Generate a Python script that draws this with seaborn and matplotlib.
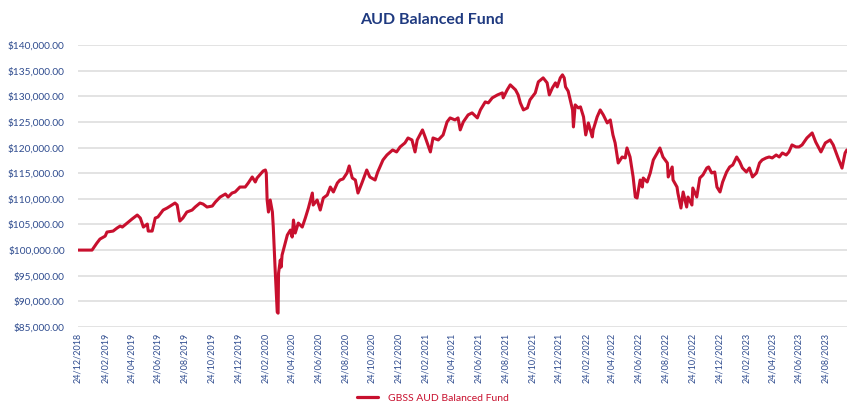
import matplotlib
matplotlib.use("Agg")
import matplotlib.pyplot as plt
import matplotlib.dates as mdates
import matplotlib.ticker as mticker
from matplotlib.lines import Line2D
import pandas as pd
import seaborn as sns

title = "AUD Balanced Fund"
series_name = "GBSS AUD Balanced Fund"

dates = [
    "2018-12-24", "2019-01-25", "2019-02-05", "2019-02-12", "2019-02-24", "2019-02-28",
    "2019-03-14", "2019-03-23", "2019-03-30", "2019-04-04", "2019-04-15", "2019-04-26",
    "2019-05-08", "2019-05-15", "2019-05-22", "2019-05-31", "2019-06-02", "2019-06-11",
    "2019-06-18", "2019-06-24", "2019-07-06", "2019-07-15", "2019-07-26", "2019-08-02",
    "2019-08-07", "2019-08-13", "2019-08-20", "2019-08-29", "2019-09-10", "2019-09-17",
    "2019-09-28", "2019-10-05", "2019-10-14", "2019-10-26", "2019-11-02", "2019-11-13",
    "2019-11-25", "2019-12-01", "2019-12-10", "2019-12-17", "2019-12-28", "2020-01-09",
    "2020-01-16", "2020-01-25", "2020-02-01", "2020-02-05", "2020-02-19", "2020-02-24",
    "2020-02-26", "2020-02-28", "2020-03-02", "2020-03-06", "2020-03-11", "2020-03-13",
    "2020-03-17", "2020-03-20", "2020-03-22", "2020-03-24", "2020-03-25", "2020-03-29",
    "2020-03-31", "2020-04-02", "2020-04-05", "2020-04-09", "2020-04-14", "2020-04-21",
    "2020-04-25", "2020-04-28", "2020-05-02", "2020-05-09", "2020-05-18", "2020-05-25",
    "2020-06-01", "2020-06-10", "2020-06-12", "2020-06-21", "2020-06-28", "2020-07-05",
    "2020-07-14", "2020-07-21", "2020-07-28", "2020-08-06", "2020-08-12", "2020-08-19",
    "2020-08-28", "2020-09-02", "2020-09-09", "2020-09-16", "2020-09-22", "2020-10-01",
    "2020-10-12", "2020-10-19", "2020-10-31", "2020-11-06", "2020-11-18", "2020-11-27",
    "2020-12-10", "2020-12-19", "2020-12-27", "2021-01-07", "2021-01-14", "2021-01-23",
    "2021-01-30", "2021-02-04", "2021-02-16", "2021-02-22", "2021-03-06", "2021-03-12",
    "2021-03-24", "2021-04-04", "2021-04-13", "2021-04-20", "2021-05-01", "2021-05-08",
    "2021-05-13", "2021-05-20", "2021-05-31", "2021-06-09", "2021-06-21", "2021-06-28",
    "2021-07-09", "2021-07-16", "2021-07-25", "2021-08-06", "2021-08-17", "2021-08-19",
    "2021-08-28", "2021-09-04", "2021-09-16", "2021-09-22", "2021-09-27", "2021-10-04",
    "2021-10-13", "2021-10-19", "2021-10-31", "2021-11-07", "2021-11-18", "2021-11-27",
    "2021-12-02", "2021-12-09", "2021-12-16", "2021-12-20", "2021-12-27", "2022-01-01",
    "2022-01-05", "2022-01-08", "2022-01-14", "2022-01-24", "2022-01-26", "2022-01-30",
    "2022-02-06", "2022-02-11", "2022-02-18", "2022-02-23", "2022-03-01", "2022-03-10",
    "2022-03-12", "2022-03-21", "2022-03-28", "2022-04-04", "2022-04-13", "2022-04-20",
    "2022-04-26", "2022-05-01", "2022-05-08", "2022-05-17", "2022-05-24", "2022-05-28",
    "2022-06-04", "2022-06-11", "2022-06-16", "2022-06-20", "2022-06-27", "2022-07-02",
    "2022-07-04", "2022-07-13", "2022-07-20", "2022-07-27", "2022-08-05", "2022-08-11",
    "2022-08-18", "2022-08-28", "2022-08-30", "2022-09-08", "2022-09-10", "2022-09-19",
    "2022-09-21", "2022-09-28", "2022-10-03", "2022-10-11", "2022-10-14", "2022-10-23",
    "2022-10-25", "2022-11-03", "2022-11-10", "2022-11-17", "2022-11-26", "2022-11-30",
    "2022-12-07", "2022-12-14", "2022-12-19", "2022-12-26", "2023-01-01", "2023-01-10",
    "2023-01-17", "2023-01-24", "2023-02-02", "2023-02-09", "2023-02-15", "2023-02-24",
    "2023-03-03", "2023-03-10", "2023-03-19", "2023-03-26", "2023-04-01", "2023-04-10",
    "2023-04-17", "2023-04-24", "2023-05-03", "2023-05-10", "2023-05-17", "2023-05-26",
    "2023-06-01", "2023-06-08", "2023-06-17", "2023-06-24", "2023-07-01", "2023-07-12",
    "2023-07-24", "2023-08-01", "2023-08-13", "2023-08-23", "2023-09-03", "2023-09-10",
    "2023-09-21", "2023-09-30", "2023-10-07", "2023-10-11",
]

values = [
    100000, 100000, 101370, 102150, 102730, 103520,
    103710, 104300, 104690, 104490, 105270, 106050,
    106840, 106250, 104490, 105080, 103710, 103710,
    106250, 106450, 107810, 108200, 108790, 109180,
    108790, 105660, 106250, 107420, 107810, 108400,
    109180, 108980, 108400, 108590, 109370, 110350,
    110940, 110350, 111130, 111330, 112300, 112300,
    113090, 114260, 113280, 114060, 115430, 115620,
    115040, 109770, 107420, 109770, 107420, 104490,
    96680, 91600, 87890, 87700, 95510, 98050,
    96680, 99020, 100000, 101370, 102930, 103910,
    102540, 105860, 103320, 105270, 104490, 106250,
    108200, 111130, 108790, 109770, 107810, 110160,
    110740, 112300, 111330, 113090, 113670, 113870,
    115040, 116410, 114060, 113670, 111130, 113090,
    115620, 114260, 113670, 115230, 117580, 118550,
    119530, 119140, 120120, 120900, 121870, 121480,
    119140, 121480, 123440, 122070, 119140, 121870,
    121480, 122460, 125000, 125780, 125390, 125780,
    123440, 125000, 126370, 126760, 125780, 127340,
    128900, 128710, 129690, 130270, 130660, 129690,
    131250, 132230, 131250, 130270, 128710, 127340,
    127730, 129300, 130660, 132810, 133590, 132620,
    130270, 131640, 132620, 131830, 133590, 134180,
    133590, 131830, 131000, 127340, 124020, 128320,
    127730, 127930, 125980, 122460, 124800, 122070,
    123440, 125980, 127340, 126370, 124800, 125390,
    122460, 120900, 116990, 118160, 117970, 119920,
    118160, 114260, 110350, 110160, 113670, 112300,
    114060, 113280, 115040, 117580, 118940, 119920,
    118160, 116990, 114260, 116210, 113670, 112300,
    111130, 108200, 111330, 108400, 110350, 108790,
    112110, 110350, 114060, 114650, 116020, 116210,
    115040, 115230, 112300, 111330, 113280, 115230,
    116210, 116600, 118160, 117190, 116020, 115230,
    116020, 114260, 115040, 116990, 117580, 117970,
    118160, 117970, 118550, 118160, 118940, 118550,
    119140, 120510, 120120, 120120, 120510, 121870,
    122850, 121090, 119140, 120900, 121480, 120510,
    117970, 115990, 118940, 119530,
]

tick_dates = pd.date_range("2018-12-01", "2023-10-01", freq="2MS") + pd.Timedelta(days=23)
y_ticks = list(range(85000, 140001, 5000))

df = pd.DataFrame({"Date": pd.to_datetime(dates), "Value": values, "Series": series_name})

sns.set_theme(style="white")
plt.rcParams["font.family"] = ["Lato", "DejaVu Sans"]

line_color = "#C8102E"
label_color = "#2F4C8F"
title_color = "#1F3A80"

W, H = 847, 403
fig = plt.figure(figsize=(W / 100, H / 100), dpi=100)
ax = fig.add_axes([78 / W, 1 - 327 / H, (860 - 78) / W, (327 - 45) / H])

sns.lineplot(data=df, x="Date", y="Value", hue="Series", palette=[line_color],
             linewidth=2.2, ax=ax, legend=False)

ax.set_xlim(pd.Timestamp("2018-12-24"), pd.Timestamp("2023-11-10"))
ax.set_ylim(85000, 140000)
ax.set_yticks(y_ticks)
ax.yaxis.set_major_formatter(mticker.FuncFormatter(lambda v, p: f"${v:,.2f}"))
ax.set_xticks(tick_dates)
ax.xaxis.set_major_formatter(mdates.DateFormatter("%d/%m/%Y"))
for lbl in ax.get_xticklabels():
    lbl.set_rotation(90)
ax.tick_params(axis="x", labelsize=6.5, colors=label_color, length=0, pad=4)
ax.tick_params(axis="y", labelsize=7.3, colors=label_color, length=0, pad=9.5)
ax.grid(axis="y", color="#E3E3E3", linewidth=1.4)
ax.grid(axis="x", visible=False)
for s in ax.spines.values():
    s.set_visible(False)
ax.set_xlabel("")
ax.set_ylabel("")

fig.text(432 / W, 1 - 20 / H, title, ha="center", va="center",
         fontsize=11.5, fontweight="bold", color=title_color)

handle = Line2D([], [], color=line_color, linewidth=2.3)
leg = fig.legend([handle], [series_name], loc="center", bbox_to_anchor=(433 / W, 1 - 398 / H),
                 frameon=False, fontsize=7.5, handlelength=2.0, handletextpad=1.0,
                 borderpad=0, borderaxespad=0)
for t in leg.get_texts():
    t.set_color(line_color)

fig.savefig("out.png", dpi=100)
